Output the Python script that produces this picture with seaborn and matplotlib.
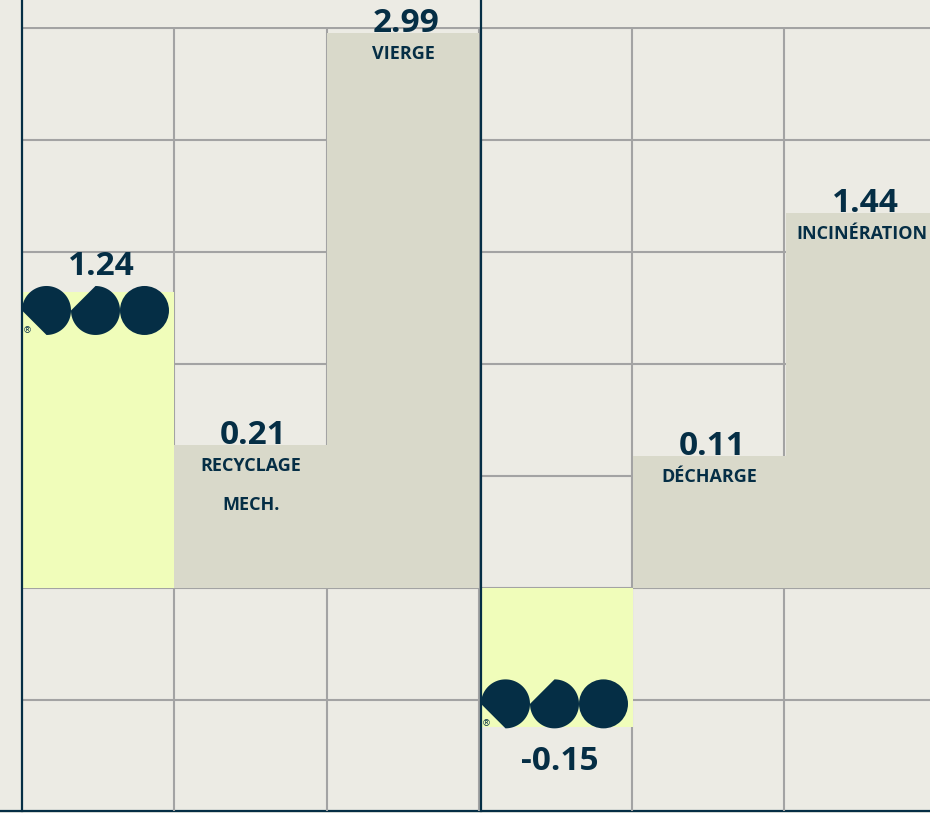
import numpy as np
import pandas as pd
import matplotlib
matplotlib.use("Agg")
import matplotlib.pyplot as plt
import seaborn as sns
from matplotlib.patches import Polygon, Circle
from matplotlib.transforms import ScaledTranslation

# ---------------- data ----------------
left_keys = ["marque", "recyclage", "vierge"]
left_names = ["", "RECYCLAGE\nMECH.", "VIERGE"]
left_values = [1.24, 0.21, 2.99]

right_keys = ["marque", "decharge", "incineration"]
right_names = ["", "DÉCHARGE", "INCINÉRATION"]
right_values = [-0.15, 0.11, 1.44]

# ---------------- style ----------------
BG = "#ecebe4"
GRID = "#a3a3a3"
NAVY = "#052e45"
BAR = "#d9d9ca"
BRAND = "#f0fdba"

W, H = 930, 813
CELL_W, CELL_H = 152.4, 112
X0, Y_TOP, Y_BOT, BASE = 22, 27, 811, 588

sns.set_theme(style="white")
plt.rcParams["font.family"] = ["Open Sans", "DejaVu Sans"]

fig = plt.figure(figsize=(W / 100, H / 100), dpi=100, facecolor=BG)


def fx(px):
    return px / W


def fy(px_from_top):
    return 1 - px_from_top / H


# sheet with bottom rule
sheet = fig.add_axes([0, fy(Y_BOT), 1, fy(0) - fy(Y_BOT)])
sheet.set_facecolor(BG)
sheet.set_xticks([])
sheet.set_yticks([])
for s in ["top", "left", "right"]:
    sheet.spines[s].set_visible(False)
sheet.spines["bottom"].set_color(NAVY)
sheet.spines["bottom"].set_linewidth(1.6)

# cell grid
grid = fig.add_axes([fx(X0), fy(Y_BOT), fx(W - X0), fy(Y_TOP) - fy(Y_BOT)])
grid.set_xlim(0, W - X0)
grid.set_ylim(Y_BOT - Y_TOP, 0)
grid.set_xticks(np.arange(CELL_W, W - X0, CELL_W))
grid.set_yticks(np.arange(1, Y_BOT - Y_TOP, CELL_H))
grid.grid(True, color=GRID, linewidth=1.5)
grid.tick_params(length=0, labelbottom=False, labelleft=False)
grid.patch.set_alpha(0)
for s in grid.spines.values():
    s.set_visible(False)


def arc_poly(cx, cy, r, a0, a1, n=90):
    t = np.radians(np.linspace(a0, a1, n))
    return np.column_stack([cx + r * np.cos(t), cy + r * np.sin(t)])


def draw_logo(ax, x_left, y_end, positive):
    trans = fig.dpi_scale_trans + ScaledTranslation(x_left, y_end, ax.transData)
    r = 0.245
    cy = -0.18 if positive else 0.235
    cxs = [r, 3 * r, 5 * r]
    ax.add_patch(Polygon(arc_poly(cxs[0], cy, r, -90, 180), closed=True,
                         transform=trans, facecolor=NAVY, edgecolor="none", zorder=5))
    ax.add_patch(Polygon(arc_poly(cxs[1], cy, r, 180, 450), closed=True,
                         transform=trans, facecolor=NAVY, edgecolor="none", zorder=5))
    ax.add_patch(Circle((cxs[2], cy), r, transform=trans,
                        facecolor=NAVY, edgecolor="none", zorder=5))
    ax.text(0.05, cy - 0.20, "®", transform=trans, fontsize=6.5, color=NAVY,
            ha="center", va="center", zorder=6, family=["DejaVu Sans"])


def panel(left_px, keys, names, values, px_per_unit):
    ax = fig.add_axes([fx(left_px), fy(Y_BOT), 3 * CELL_W / W, fy(0) - fy(Y_BOT)])
    stub = CELL_H / px_per_unit
    ext = [v + np.sign(v) * stub for v in values]
    df = pd.DataFrame({"key": keys, "ext": ext})
    sns.barplot(data=df, x="key", y="ext", hue="key", order=keys, hue_order=keys,
                palette=[BRAND, BAR, BAR], width=1, saturation=1, linewidth=0,
                errorbar=None, legend=False, ax=ax)
    ax.set_xlim(-0.5, 2.5)
    ax.set_ylim(-(Y_BOT - BASE) / px_per_unit, BASE / px_per_unit)
    ax.set_facecolor("none")
    ax.set_xticks([])
    ax.set_yticks([])
    ax.set_xlabel("")
    ax.set_ylabel("")
    for s in ["top", "right", "bottom"]:
        ax.spines[s].set_visible(False)
    ax.spines["left"].set_color(NAVY)
    ax.spines["left"].set_linewidth(1.6)

    for i, (v, e, name) in enumerate(zip(values, ext, names)):
        brand = i == 0
        if v >= 0:
            off = 17 if brand else 1
        else:
            off = -43
        ax.annotate(f"{v:.2f}", (i, e), xytext=(3 * 0.72, off * 0.72),
                    textcoords="offset points", ha="center", va="baseline",
                    fontsize=24, fontweight="bold", color=NAVY, zorder=7,
                    annotation_clip=False)
        if name:
            ax.annotate(name, (i, e), xytext=(0, -12 * 0.72), textcoords="offset points",
                        ha="center", va="top", fontsize=13, fontweight="bold",
                        color=NAVY, linespacing=2.5, zorder=7)
        if brand:
            draw_logo(ax, i - 0.5, e, v >= 0)
    return ax


ax_l = panel(X0, left_keys, left_names, left_values, 148.0)
ax_r = panel(481, right_keys, right_names, right_values, 182.5)

fig.savefig("out.png", dpi=100, facecolor=BG)
